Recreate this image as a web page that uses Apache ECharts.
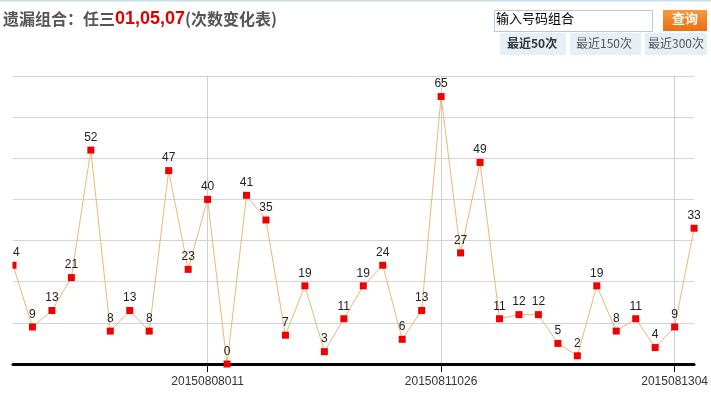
<!DOCTYPE html>
<html>
<head>
<meta charset="utf-8">
<script src="https://cdn.jsdelivr.net/npm/echarts@6/dist/echarts.min.js"></script>
<style>
html,body{margin:0;padding:0;background:#fff;}
#c{width:711px;height:403px;}
</style>
</head>
<body>
<div id="c"></div>
<script>
// Missing counts for combination 01,05,07 (last 36 visible periods)
var values = [24, 9, 13, 21, 52, 8, 13, 8, 47, 23, 40, 0, 41, 35, 7, 19, 3, 11, 19, 24, 6, 13, 65, 27, 49, 11, 12, 12, 5, 2, 19, 8, 11, 4, 9, 33];
// Period labels shown on the x axis (others unknown / hidden)
var labeledIdx = [10, 22, 34];
var labeledText = ['20150808011', '20150811026', '2015081304'];
var categories = values.map(function (v, i) {
  var k = labeledIdx.indexOf(i);
  return k >= 0 ? labeledText[k] : ('p' + i);
});
var titleMain = '遗漏组合：任三';
var titleNums = '01,05,07';
var titleTail = '(次数变化表)';
var yMin = 0, yMax = 70, yStep = 10;

function showIdx(i) { return labeledIdx.indexOf(i) >= 0; }

var chart = echarts.init(document.getElementById('c'), null, {renderer: 'canvas'});
var FONT = '"Liberation Sans", Arial, sans-serif';
var CJK = '"Noto Sans CJK SC", "Microsoft YaHei", sans-serif';
chart.setOption({
  animation: false,
  backgroundColor: '#fff',
  grid: {left: 13, right: 16, top: 76, bottom: 39, containLabel: false},
  xAxis: {
    type: 'category',
    data: categories,
    boundaryGap: false,
    axisLine: {show: true, lineStyle: {color: '#000', width: 3}},
    axisTick: {show: true, alignWithLabel: true, length: 8, lineStyle: {color: '#000', width: 1},
      interval: function (i) { return showIdx(i); }},
    axisLabel: {
      interval: function (i) { return showIdx(i); },
      color: '#333', fontFamily: FONT, fontSize: 12, margin: 12
    },
    splitLine: {show: true, interval: function (i) { return showIdx(i); }, lineStyle: {color: '#cfcfcf', width: 1}}
  },
  yAxis: {
    type: 'value', min: yMin, max: yMax, interval: yStep,
    axisLine: {show: false}, axisTick: {show: false}, axisLabel: {show: false},
    splitLine: {show: true, lineStyle: {color: '#d4d4d4', width: 1}}
  },
  series: [{
    type: 'line',
    data: values,
    symbol: 'rect',
    symbolSize: 7,
    showAllSymbol: true,
    lineStyle: {color: '#E8BA74', width: 1},
    itemStyle: {color: '#F00000'},
    label: {show: true, position: 'top', distance: 3, color: '#222', fontFamily: FONT, fontSize: 12},
    clip: false,
    z: 3
  }],
  graphic: [
    {type: 'rect', z: 100, shape: {x: 0, y: 60, width: 12.5, height: 302}, style: {fill: '#fff'}},
    {type: 'rect', shape: {x: 0, y: 0, width: 711, height: 1.5}, style: {fill: '#c8dde9'}},
    {type: 'text', left: 3, top: 10, style: {
      rich: {
        a: {fontFamily: CJK, fontWeight: 'bold', fontSize: 16, fill: '#555'},
        b: {fontFamily: 'Arial, "Liberation Sans", sans-serif', fontWeight: 'bold', fontSize: 18, fill: '#e00000'}
      },
      text: '{a|' + titleMain + '}{b|' + titleNums + '}{a|' + titleTail + '}'
    }},
    {type: 'rect', shape: {x: 494.5, y: 10.5, width: 158, height: 21}, style: {fill: '#fff', stroke: '#b8c8d4', lineWidth: 1}},
    {type: 'text', left: 496, top: 12, style: {text: '输入号码组合', fontFamily: CJK, fontSize: 13, fill: '#000'}},
    {type: 'rect', shape: {x: 663, y: 10, width: 44, height: 21},
      style: {fill: new echarts.graphic.LinearGradient(0, 0, 0, 1, [{offset: 0, color: '#f79a3a'}, {offset: 1, color: '#ec6e12'}])}},
    {type: 'text', left: 672, top: 12, style: {text: '查询', fontFamily: CJK, fontWeight: 'bold', fontSize: 13, fill: '#fff'}},
    {type: 'rect', shape: {x: 500, y: 33, width: 66, height: 22}, style: {fill: '#e6eef6'}},
    {type: 'text', left: 507, top: 37, style: {text: '最近50次', fontFamily: CJK, fontWeight: 'bold', fontSize: 12, fill: '#333'}},
    {type: 'rect', shape: {x: 570, y: 33, width: 71, height: 22}, style: {fill: '#e6eef6'}},
    {type: 'text', left: 576, top: 37, style: {text: '最近150次', fontFamily: CJK, fontSize: 12, fill: '#555'}},
    {type: 'rect', shape: {x: 645, y: 33, width: 62, height: 22}, style: {fill: '#e6eef6'}},
    {type: 'text', left: 648, top: 37, style: {text: '最近300次', fontFamily: CJK, fontSize: 12, fill: '#555'}}
  ]
});
</script>
</body>
</html>
